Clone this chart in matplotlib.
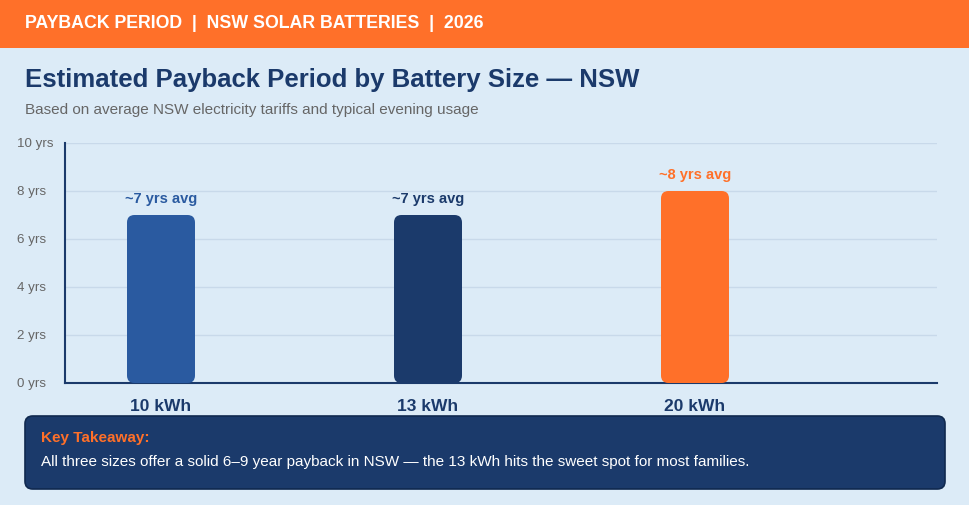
import numpy as np
import matplotlib
matplotlib.use("Agg")
import matplotlib.pyplot as plt
from matplotlib.patches import FancyBboxPatch, Rectangle

plt.rcParams["font.family"] = ["Liberation Sans", "DejaVu Sans"]

# data
sizes = ["10 kWh", "13 kWh", "20 kWh"]
payback = [7, 7, 8]
bar_labels = ["~7 yrs avg", "~7 yrs avg", "~8 yrs avg"]
bar_colors = ["#2A5AA0", "#1B3A6B", "#FF7029"]
yticks = [0, 2, 4, 6, 8, 10]
ytick_labels = [f"{v} yrs" for v in yticks]

BG = "#DCEBF7"
NAVY = "#1B3A6B"
ORANGE = "#FF7029"

W, H = 969, 505
fig = plt.figure(figsize=(W / 100, H / 100), dpi=100, facecolor=BG)

# header band
fig.add_artist(Rectangle((0, 1 - 48 / H), 1, 48 / H, transform=fig.transFigure,
                         color=ORANGE, lw=0))
fig.text(25 / W, 1 - 23.5 / H, "PAYBACK PERIOD  |  NSW SOLAR BATTERIES  |  2026",
         color="white", fontsize=12.75, fontweight="bold", va="center")
fig.text(25 / W, 1 - 80 / H, "Estimated Payback Period by Battery Size \u2014 NSW",
         color=NAVY, fontsize=18.5, fontweight="bold", va="center")
fig.text(25 / W, 1 - 110 / H,
         "Based on average NSW electricity tariffs and typical evening usage",
         color="#666666", fontsize=11, va="center")

# chart
ax = fig.add_axes([65 / W, 1 - 383 / H, (937 - 65) / W, 240 / H])
ax.set_facecolor(BG)
x = np.arange(len(sizes))
bw = 68 / 267
ux, uy = 267.0, 24.0
r = 7.5 / ux
for xi, v, c, lab in zip(x, payback, bar_colors, bar_labels):
    p = FancyBboxPatch((xi - bw / 2, 0), bw, v,
                       boxstyle=f"round,pad=0,rounding_size={r}",
                       mutation_aspect=ux / uy, fc=c, ec="none", zorder=3)
    ax.add_patch(p)
    ax.text(xi, v + 0.38, lab, ha="center", va="bottom", color=c,
            fontsize=10.5, fontweight="bold")
ax.set_xlim(-96 / 267, 2 + 242 / 267)
ax.set_ylim(0, 10)
ax.set_yticks(yticks)
ax.set_yticklabels(ytick_labels)
ax.set_xticks(x)
ax.set_xticklabels(sizes)
ax.tick_params(axis="y", length=0, pad=34.5, labelsize=9.6, labelcolor="#666666")
for t in ax.get_yticklabels():
    t.set_ha("left")
ax.tick_params(axis="x", length=0, pad=11.5, labelsize=12.5, labelcolor=NAVY)
for t in ax.get_xticklabels():
    t.set_fontweight("bold")
ax.grid(axis="y", color="#C8D9EA", lw=1, zorder=0)
ax.set_axisbelow(True)
for s in ["top", "right"]:
    ax.spines[s].set_visible(False)
for s in ["left", "bottom"]:
    ax.spines[s].set_color(NAVY)
    ax.spines[s].set_linewidth(1.5)

# takeaway box
fig.add_artist(FancyBboxPatch((25 / W, 1 - 489 / H), 920 / W, 73 / H,
                              boxstyle="round,pad=0,rounding_size=0.008",
                              mutation_aspect=W / H, transform=fig.transFigure,
                              fc=NAVY, ec="#10294F", lw=1.2))
fig.text(41 / W, 1 - 438 / H, "Key Takeaway:", color=ORANGE, fontsize=11,
         fontweight="bold", va="center")
fig.text(41 / W, 1 - 462 / H,
         "All three sizes offer a solid 6\u20139 year payback in NSW \u2014 the 13 kWh hits the sweet spot for most families.",
         color="white", fontsize=11, va="center")

fig.savefig("out.png", dpi=100, facecolor=BG)
